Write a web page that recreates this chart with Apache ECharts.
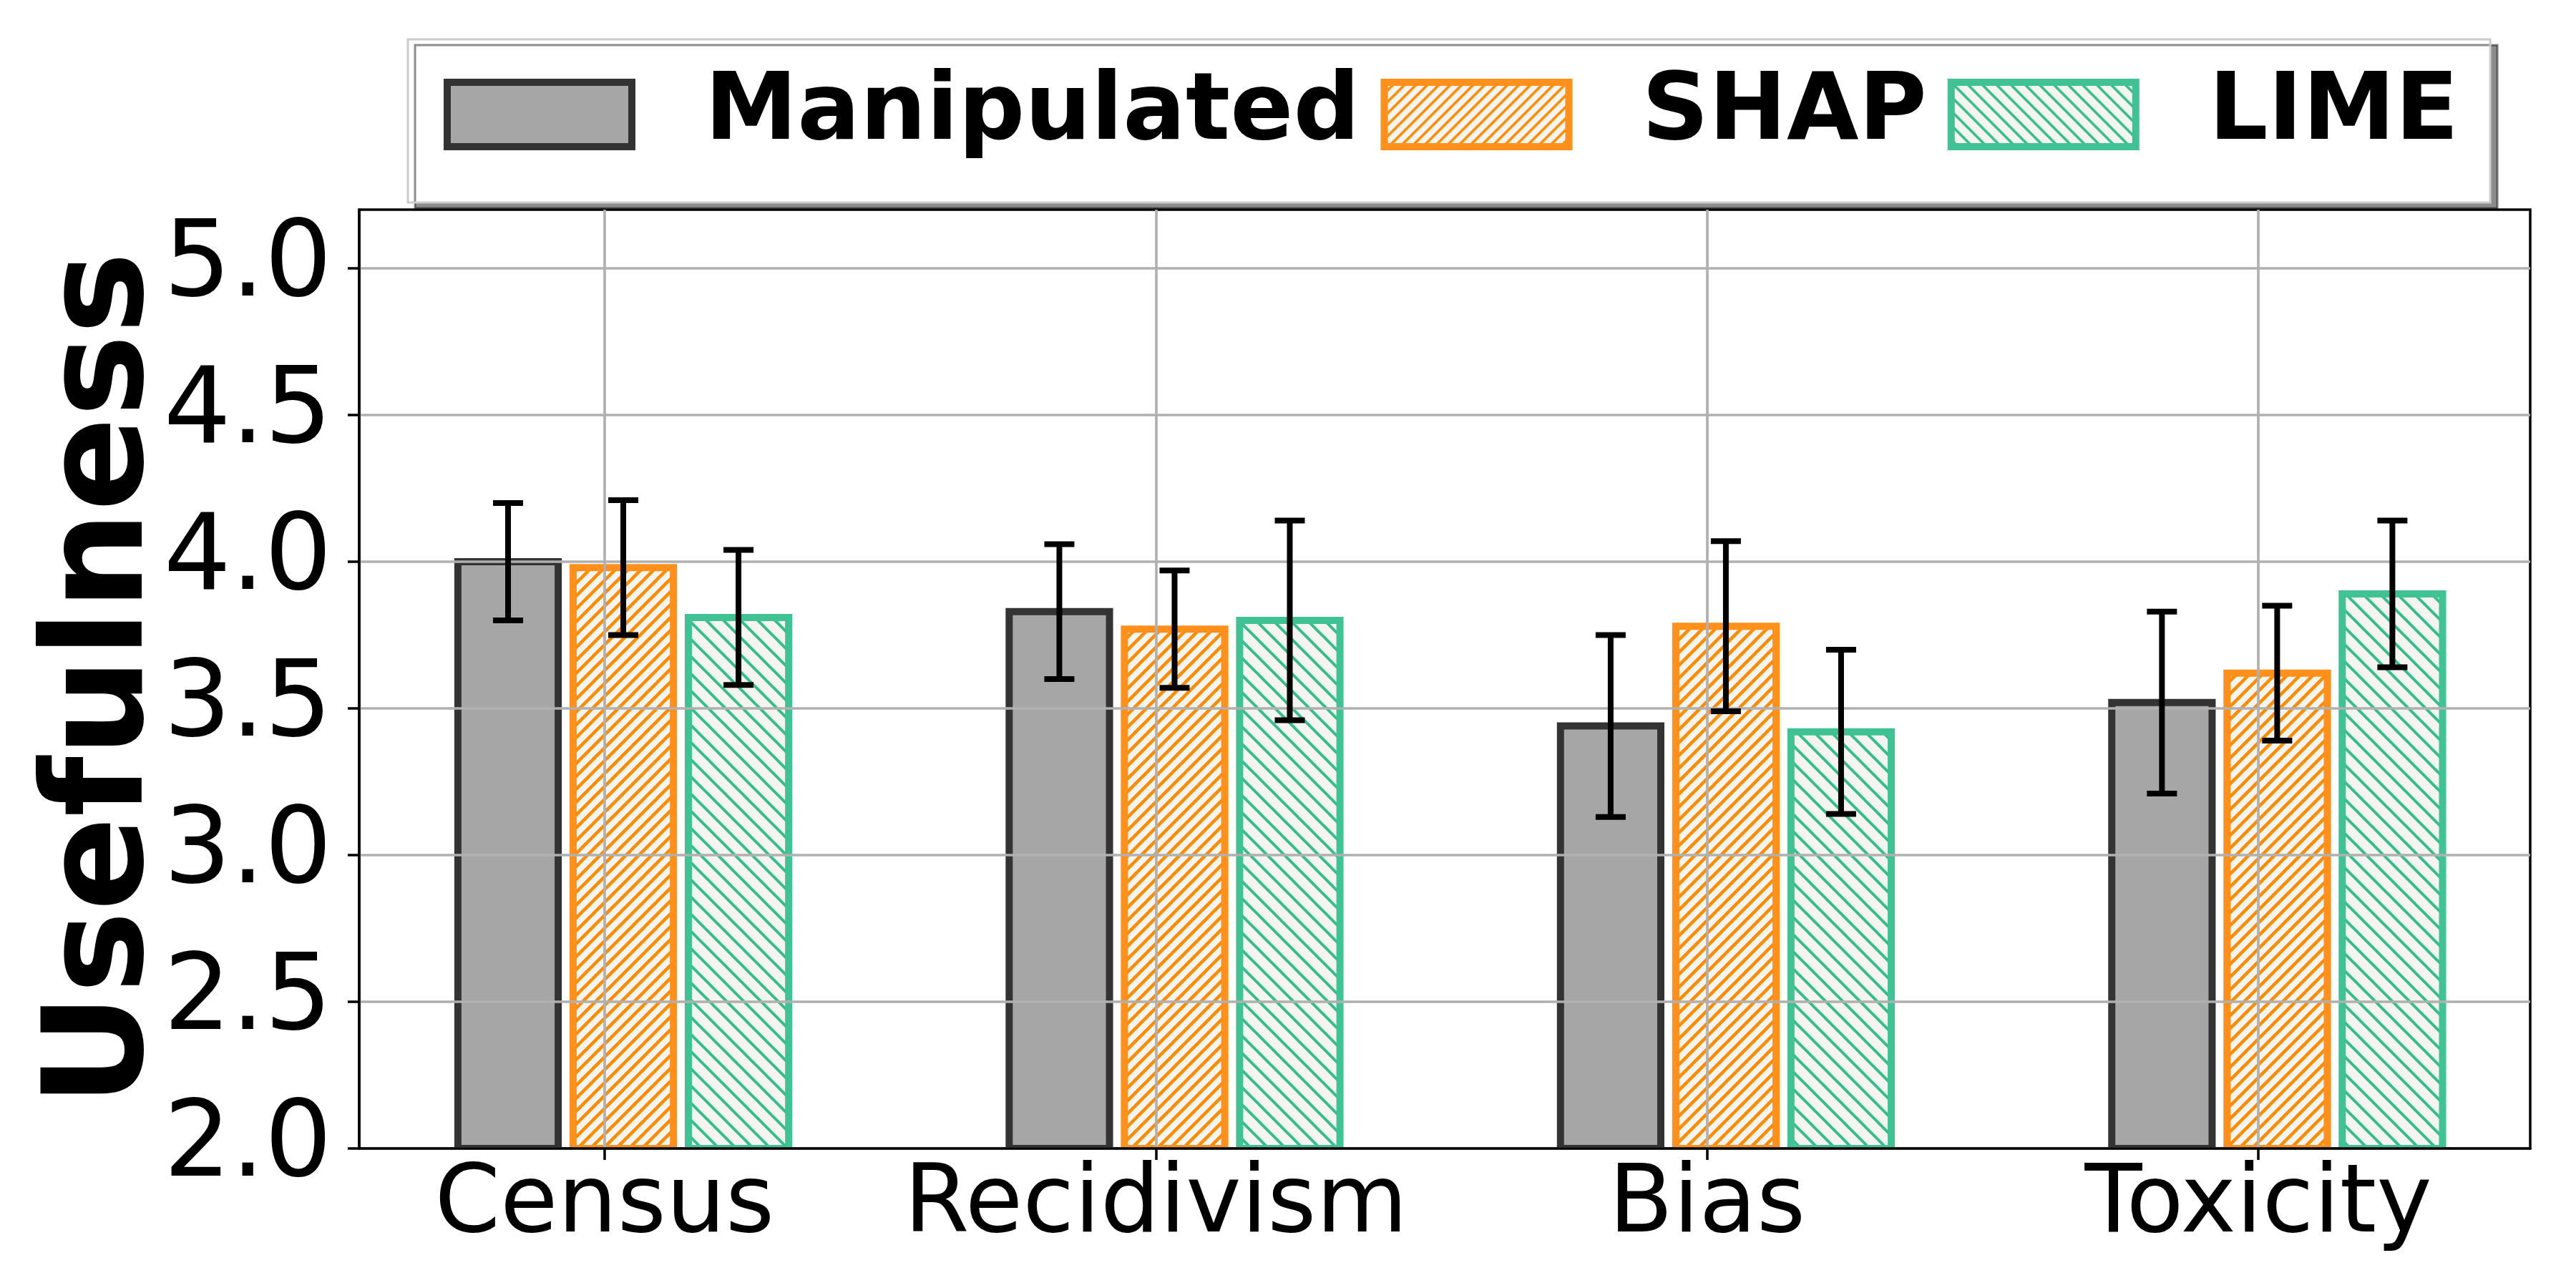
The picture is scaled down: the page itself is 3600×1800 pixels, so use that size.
<!DOCTYPE html>
<html>
<head>
<meta charset="utf-8">
<script src="https://cdn.jsdelivr.net/npm/echarts@6/dist/echarts.min.js"></script>
<style>
html,body{margin:0;padding:0;background:#fff;}
#chart{width:3600px;height:1800px;}
</style>
</head>
<body>
<div id="chart"></div>
<script>
// ---- data ----
const categories = ['Census', 'Recidivism', 'Bias', 'Toxicity'];
const seriesNames = ['Manipulated', 'SHAP', 'LIME'];
const manipulatedMean = [4.00, 3.83, 3.44, 3.52];
const manipulatedErr  = [0.20, 0.23, 0.31, 0.31];
const shapMean = [3.98, 3.77, 3.78, 3.62];
const shapErr  = [0.23, 0.20, 0.29, 0.23];
const limeMean = [3.81, 3.80, 3.42, 3.89];
const limeErr  = [0.23, 0.34, 0.28, 0.25];
const yTicks = [2.0, 2.5, 3.0, 3.5, 4.0, 4.5, 5.0];
const xTicks = [0, 1, 2, 3];

// ---- layout / style constants ----
const Y_MIN = 2.0, Y_MAX = 5.2;
const X_MIN = -0.445, X_MAX = 3.493;
const OFFSETS = [-0.175, 0.034, 0.243];
const BAR_HALF = 0.091;
const FONT = 'DejaVu Sans';

function hatch(size, dir, color, bg, lw) {
  const c = document.createElement('canvas');
  c.width = size; c.height = size;
  const g = c.getContext('2d');
  g.fillStyle = bg; g.fillRect(0, 0, size, size);
  g.strokeStyle = color; g.lineWidth = lw; g.lineCap = 'square';
  for (let k = -1; k <= 1; k++) {
    g.beginPath();
    if (dir === '/') { g.moveTo(k * size, size); g.lineTo(k * size + size, 0); }
    else { g.moveTo(k * size, 0); g.lineTo(k * size + size, size); }
    g.stroke();
  }
  return { image: c, repeat: 'repeat' };
}

const BG = '#f4f5f0';
const styles = [
  { fill: '#a6a6a6', stroke: '#333333' },
  { fill: hatch(18, '/', '#ff8c00', BG, 4.5), stroke: '#ff901c' },
  { fill: hatch(24, '\\', '#33be8c', BG, 4), stroke: '#40c295' }
];
const legendStyles = [
  { fill: '#a6a6a6', stroke: '#333333' },
  { fill: hatch(16, '/', '#ff8c00', BG, 3.5), stroke: '#ff901c' },
  { fill: hatch(20, '\\', '#33be8c', BG, 3.5), stroke: '#40c295' }
];

const means = [manipulatedMean, shapMean, limeMean];
const errs = [manipulatedErr, shapErr, limeErr];

function barRender(sIdx) {
  return function (params, api) {
    const x = api.value(0) + OFFSETS[sIdx];
    const y = api.value(1);
    const p1 = api.coord([x - BAR_HALF, y]);
    const p2 = api.coord([x + BAR_HALF, Y_MIN]);
    return {
      type: 'rect',
      shape: { x: p1[0], y: p1[1], width: p2[0] - p1[0], height: p2[1] - p1[1] },
      style: { fill: styles[sIdx].fill, stroke: styles[sIdx].stroke, lineWidth: 10 }
    };
  };
}

function errRender(params, api) {
  const s = api.value(3);
  const x = api.value(0) + OFFSETS[s];
  const m = api.value(1), e = api.value(2);
  const top = api.coord([x, m + e]);
  const bot = api.coord([x, m - e]);
  const cap = 21;
  const st = { stroke: '#000', lineWidth: 8 };
  return {
    type: 'group',
    children: [
      { type: 'line', shape: { x1: top[0], y1: top[1], x2: bot[0], y2: bot[1] }, style: st },
      { type: 'line', shape: { x1: top[0] - cap, y1: top[1], x2: top[0] + cap, y2: top[1] }, style: st },
      { type: 'line', shape: { x1: bot[0] - cap, y1: bot[1], x2: bot[0] + cap, y2: bot[1] }, style: st }
    ]
  };
}

const barSeries = seriesNames.map((name, s) => ({
  name: name,
  type: 'custom',
  z: 2,
  clip: true,
  itemStyle: { color: s === 0 ? '#a6a6a6' : styles[s].stroke },
  renderItem: barRender(s),
  data: categories.map((c, i) => [i, means[s][i]])
}));

const errData = [];
seriesNames.forEach((n, s) => categories.forEach((c, i) => errData.push([i, means[s][i], errs[s][i], s])));

const chart = echarts.init(document.getElementById('chart'), null, { renderer: 'canvas' });
chart.setOption({
  animation: false,
  backgroundColor: '#ffffff',
  grid: {
    left: 502, right: 64, top: 293, bottom: 195,
    show: true, borderColor: '#000', borderWidth: 3.5, backgroundColor: 'transparent'
  },
  legend: {
    left: 570, top: 55,
    padding: [40, 44, 58, 50],
    selectedMode: false,
    itemWidth: 258, itemHeight: 90, itemGap: 29,
    backgroundColor: '#ffffff',
    borderColor: '#cccccc', borderWidth: 3,
    borderRadius: 0,
    shadowColor: 'rgba(0,0,0,0.45)', shadowBlur: 0, shadowOffsetX: 10, shadowOffsetY: 8,
    textStyle: { fontFamily: FONT, fontWeight: 'bold', fontSize: 130, color: '#000', padding: [0, 0, 0, 97] },
    data: seriesNames.map((n, s) => ({
      name: n, icon: 'rect',
      itemStyle: { color: legendStyles[s].fill, borderColor: legendStyles[s].stroke, borderWidth: 10 }
    }))
  },
  xAxis: {
    type: 'value', min: X_MIN, max: X_MAX, z: 3,
    axisLine: { show: true, onZero: false, lineStyle: { color: '#000', width: 3.5 } },
    axisTick: { show: true, customValues: xTicks, length: 16, lineStyle: { color: '#000', width: 3.5 } },
    axisLabel: {
      customValues: xTicks, margin: 16,
      fontFamily: FONT, fontSize: 131, color: '#000',
      formatter: v => categories[Math.round(v)]
    },
    splitLine: { show: true, lineStyle: { color: '#b0b0b0', width: 3.7 } }
  },
  yAxis: {
    type: 'value', min: Y_MIN, max: Y_MAX, interval: 0.5, z: 3,
    name: 'Usefulness', nameLocation: 'middle', nameGap: 257, nameMoveOverlap: false,
    nameTextStyle: { fontFamily: FONT, fontWeight: 'bold', fontSize: 194, color: '#000' },
    axisLine: { show: true, onZero: false, lineStyle: { color: '#000', width: 3.5 } },
    axisTick: { show: true, customValues: yTicks, length: 16, lineStyle: { color: '#000', width: 3.5 } },
    axisLabel: {
      customValues: yTicks, margin: 38,
      fontFamily: FONT, fontSize: 148, color: '#000',
      formatter: v => Number(v).toFixed(1)
    },
    splitLine: { show: true, lineStyle: { color: '#b0b0b0', width: 3.7 } }
  },
  series: barSeries.concat([{
    name: 'errorbars',
    type: 'custom',
    z: 5,
    clip: false,
    renderItem: errRender,
    data: errData
  }])
});
</script>
</body>
</html>
